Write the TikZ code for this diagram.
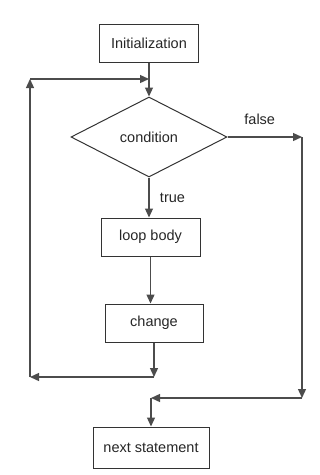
\documentclass[tikz,border=0pt]{standalone}
\usepackage{fontspec}
\setmainfont{Liberation Sans}
\usetikzlibrary{shapes.geometric,positioning,arrows.meta}

\begin{document}
\begin{tikzpicture}[
  x=1pt,y=1pt,
  every node/.style={font=\fontsize{14.5}{16}\selectfont,text=black!85},
  box/.style={draw=black!80,line width=1pt,minimum height=38pt,align=center},
  decision/.style={diamond,draw=black!80,line width=1pt,inner sep=0pt,
    minimum width=156pt,minimum height=80pt},
  arr/.style={draw=black!70,line width=1.3pt,-{Triangle[length=9pt,width=8pt]}},
  node distance=34pt
]
  \useasboundingbox (0,0) rectangle (320,-475);
  \node[box,minimum width=99pt] (init) at (149,-43) {Initialization};
  \node[decision,below=of init] (cond) {condition};
  \node[box,minimum width=99pt,below=40pt of cond,xshift=1.5pt] (body) {loop body};
  \node[box,minimum width=98pt,below=47pt of body,xshift=3.5pt] (change) {change};
  \node[box,minimum width=116pt,minimum height=41pt,below=84pt of change,xshift=-3pt] (next) {next statement};

  % loop back on the left
  \coordinate (chgend) at (change.south |- 0,-377);
  \coordinate (backbot) at (30,-377);
  \coordinate (backtop) at (30,-79);
  \coordinate (backin) at (init.south |- backtop);
  % exit on the right
  \coordinate (exitright) at (cond.east -| 302,0);
  \coordinate (exitbot) at (302,-398);
  \coordinate (merge) at (next.north |- exitbot);

  \draw[arr] (init) -- (cond);
  \draw[arr] (cond) -- node[right=7pt] {true} (cond.south |- body.north);
  \draw[arr] (body.south) -- (body.south |- change.north);
  \draw[arr] (change) -- (chgend);
  \draw[arr] (chgend) -- (backbot);
  \draw[arr] (backbot) -- (backtop);
  \draw[arr] (backtop) -- (backin);
  \draw[arr] (cond.east) -- node[above=8pt,xshift=-5pt] {false} (exitright);
  \draw[arr] (exitright) -- (exitbot);
  \draw[arr] (exitbot) -- (merge);
  \draw[arr] (merge) -- (next);
\end{tikzpicture}
\end{document}
